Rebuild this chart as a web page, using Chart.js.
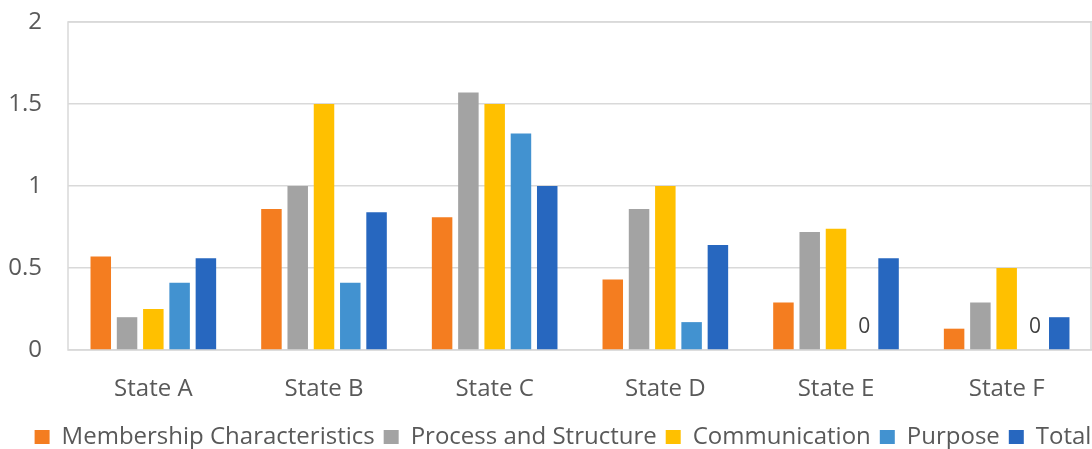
<!DOCTYPE html>
<html>
<head>
<meta charset="utf-8">
<script src="https://cdn.jsdelivr.net/npm/chart.js@4.4.1/dist/chart.umd.min.js"></script>
<style>
  html, body { margin: 0; padding: 0; background: #fff; }
  #wrap { width: 1092px; height: 449px; }
</style>
</head>
<body>
<div id="wrap"><canvas id="chart" width="1092" height="449"></canvas></div>
<script>
// --- datos ---
const states = ['State A', 'State B', 'State C', 'State D', 'State E', 'State F'];
const membership = [0.57, 0.86, 0.81, 0.43, 0.29, 0.13];
const processStructure = [0.2, 1.0, 1.57, 0.86, 0.72, 0.29];
const communication = [0.25, 1.5, 1.5, 1.0, 0.74, 0.5];
const purpose = [0.41, 0.41, 1.32, 0.17, 0, 0];
const total = [0.56, 0.84, 1.0, 0.64, 0.56, 0.2];
const yTicks = [0, 0.5, 1, 1.5, 2];

const FONT = '"Open Sans", "Noto Sans", sans-serif';
const TEXT = '#595959';
const GRID = '#d9d9d9';

function ds(label, data, color) {
    return {
        label, data, backgroundColor: color, borderWidth: 0,
        categoryPercentage: 0.77, barPercentage: 0.78
    };
}

// recuadro del area de trazado
const frame = {
    id: 'frame',
    beforeDatasetsDraw(chart) {
        const a = chart.chartArea, ctx = chart.ctx;
        ctx.save();
        ctx.strokeStyle = GRID; ctx.lineWidth = 1.5;
        ctx.strokeRect(a.left, a.top, a.right - a.left - 1, a.bottom - a.top);
        ctx.restore();
    }
};

// etiqueta "0" en barras de Purpose con valor cero
const zeroLabels = {
    id: 'zeroLabels',
    afterDatasetsDraw(chart) {
        const ctx = chart.ctx;
        const meta = chart.getDatasetMeta(3);
        ctx.save();
        ctx.font = '21px ' + FONT;
        ctx.fillStyle = '#404040';
        ctx.textAlign = 'center'; ctx.textBaseline = 'middle';
        meta.data.forEach((bar, i) => {
            if (purpose[i] === 0) ctx.fillText('0', bar.x + 2, bar.y - 23);
        });
        ctx.restore();
    }
};

// leyenda: mas baja (recortada como en el original) y algo desplazada a la derecha
const legendShift = {
    id: 'legendShift',
    beforeInit(chart) {
        const fit = chart.legend.fit;
        chart.legend.fit = function () {
            fit.bind(chart.legend)();
            this.height = 33;
        };
    },
    afterLayout(chart) {
        chart.legend.left += 17;
        chart.legend.right += 17;
    }
};

new Chart(document.getElementById('chart'), {
    type: 'bar',
    data: {
        labels: states,
        datasets: [
            ds('Membership Characteristics', membership, '#f47d20'),
            ds('Process and Structure', processStructure, '#a3a3a3'),
            ds('Communication', communication, '#ffc000'),
            ds('Purpose', purpose, '#4292d0'),
            ds('Total', total, '#2767bf')
        ]
    },
    options: {
        responsive: false, animation: false,
        layout: { padding: { left: 0, right: 0, top: 22, bottom: 0 } },
        plugins: {
            legend: {
                position: 'bottom',
                labels: {
                    font: { family: FONT, size: 24 }, color: TEXT,
                    boxWidth: 15, boxHeight: 14, padding: 9
                }
            },
            tooltip: { enabled: false }
        },
        scales: {
            x: {
                grid: { display: false },
                border: { display: false },
                ticks: { font: { family: FONT, size: 24 }, color: TEXT, padding: 17 },
                afterFit(axis) { axis.height = 66; }
            },
            y: {
                min: 0, max: 2,
                afterBuildTicks(axis) { axis.ticks = yTicks.map(v => ({ value: v })); },
                grid: { color: GRID, lineWidth: 1.5, drawTicks: false },
                border: { display: false },
                ticks: {
                    font: { family: FONT, size: 24 }, color: TEXT, padding: 26,
                    callback: v => String(v)
                },
                afterFit(axis) {
                    axis.width = 68;
                    axis.paddingTop = 0;
                    axis.paddingBottom = 0;
                }
            }
        }
    },
    plugins: [frame, zeroLabels, legendShift]
});
</script>
</body>
</html>
